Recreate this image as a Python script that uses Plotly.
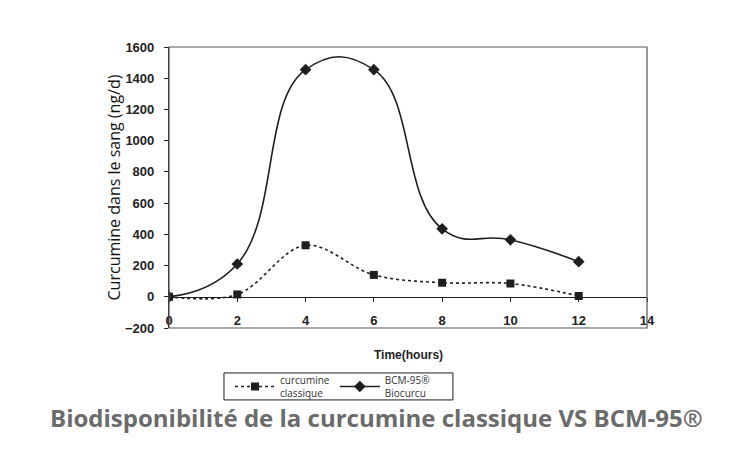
import plotly.graph_objects as go

# Data
hours = [0, 2, 4, 6, 8, 10, 12]
classique = [0, 15, 330, 140, 90, 85, 5]
bcm95 = [0, 210, 1455, 1455, 435, 365, 225]

y_ticks = [-200, 0, 200, 400, 600, 800, 1000, 1200, 1400, 1600]
x_ticks = [0, 2, 4, 6, 8, 10, 12, 14]

ink = "#1e1e1e"
scan_font = dict(family="Liberation Sans, Arial", size=13, color="#222")

fig = go.Figure()

fig.add_trace(go.Scatter(
    x=hours, y=classique, name="curcumine<br>classique",
    mode="lines+markers",
    line=dict(color=ink, width=1.6, dash="dot", shape="spline", smoothing=1.0),
    marker=dict(symbol="square", size=8, color=ink),
))
fig.add_trace(go.Scatter(
    x=hours, y=bcm95, name="BCM-95®<br>Biocurcu",
    mode="lines+markers",
    line=dict(color=ink, width=1.6, shape="spline", smoothing=1.3),
    marker=dict(symbol="diamond", size=9, color=ink),
))

# frame around the plot area (bottom edge sits at -200)
fig.add_shape(type="rect", xref="x domain", yref="y domain",
              x0=0, x1=1, y0=0, y1=1, line=dict(color="#555", width=1.2))
# legend box drawn by hand so it keeps the scanned proportions
fig.add_shape(type="rect", xref="paper", yref="paper",
              x0=0.115, x1=0.594, y0=-0.160, y1=-0.256,
              line=dict(color=ink, width=1))

# page body adds an 8px offset, so margins are shifted to compensate
fig.update_layout(
    width=750, height=450,
    margin=dict(l=161, r=111, t=39, b=130, autoexpand=False),
    plot_bgcolor="white", paper_bgcolor="white",
    showlegend=True,
    legend=dict(orientation="h", xref="container", yref="container",
                x=222 / 750, y=1 - 378.5 / 450, xanchor="left", yanchor="middle",
                bgcolor="rgba(0,0,0,0)", borderwidth=0,
                font=dict(family="Open Sans", size=10, color="#333"),
                itemwidth=40, tracegroupgap=0),
    xaxis=dict(range=[0, 14], tickvals=x_ticks, showgrid=False, zeroline=False,
               anchor="free", position=200 / 1800, automargin=False,
               showline=True, linecolor=ink, linewidth=1.2,
               ticks="outside", ticklen=4, tickcolor=ink, ticklabelstandoff=8,
               tickfont=dict(scan_font, weight="bold")),
    yaxis=dict(range=[-200, 1600], tickvals=y_ticks, showgrid=False, zeroline=False,
               automargin=False,
               showline=True, linecolor=ink, linewidth=1.2,
               ticks="outside", ticklen=4, tickcolor=ink, ticklabelstandoff=7,
               tickfont=dict(scan_font, weight="bold"),
               title=dict(text="Curcumine dans le sang (ng/d)",
                          font=dict(family="Open Sans", size=16, color="#111"),
                          standoff=0)),
)

fig.add_annotation(text="<b>Time(hours)</b>", xref="paper", yref="paper",
                   x=0.5, y=-0.096, showarrow=False, yanchor="middle",
                   font=dict(family="Liberation Sans, Arial", size=12, color=ink))
fig.add_annotation(text="<b>Biodisponibilité de la curcumine classique VS BCM-95®</b>",
                   xref="paper", yref="paper", x=0.435, y=-0.317,
                   showarrow=False, yanchor="middle",
                   font=dict(family="Open Sans", size=24, color="#6b6b6b"))

fig.write_html("out.html")
